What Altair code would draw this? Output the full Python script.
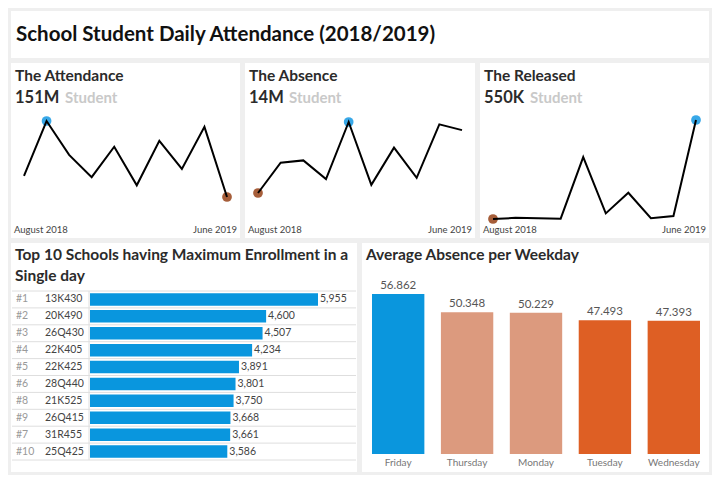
import altair as alt
import pandas as pd

# ---------------- data ----------------
main_title = "School Student Daily Attendance (2018/2019)"

months = ["August 2018", "September 2018", "October 2018", "November 2018", "December 2018",
          "January 2019", "February 2019", "March 2019", "April 2019", "June 2019"]

attendance_m = [13.7, 18.4, 15.5, 13.6, 16.2, 12.9, 16.7, 14.3, 17.9, 11.9]   # millions
absence_m = [1.10, 1.36, 1.38, 1.22, 1.71, 1.17, 1.49, 1.23, 1.69, 1.64]       # millions
released_k = [2, 5, 4, 3, 167, 17, 72, 4, 10, 266]                              # thousands

kpi_titles = ["The Attendance", "The Absence", "The Released"]
kpi_totals = ["151M", "14M", "550K"]
kpi_unit = "Student"

top_title_1 = "Top 10 Schools having Maximum Enrollment in a"
top_title_2 = "Single day"
ranks = ["#1", "#2", "#3", "#4", "#5", "#6", "#8", "#9", "#7", "#10"]
schools = ["13K430", "20K490", "26Q430", "22K405", "22K425", "28Q440", "21K525", "26Q415", "31R455", "25Q425"]
enroll = [5955, 4600, 4507, 4234, 3891, 3801, 3750, 3668, 3661, 3586]

wd_title = "Average Absence per Weekday"
weekdays = ["Friday", "Thursday", "Monday", "Tuesday", "Wednesday"]
avg_absence = [56.862, 50.348, 50.229, 47.493, 47.393]
weekday_colors = ["#0a96dd", "#dc9a7e", "#dc9a7e", "#de5f24", "#de5f24"]

FONT = "Lato"
DARK = "#2b2b2b"

# ---------------- title panel ----------------
title_chart = alt.Chart(pd.DataFrame({"t": [main_title]})).mark_text(
    align="left", baseline="middle", font=FONT, fontSize=20.5, fontWeight="bold", color="#111"
).encode(text="t:N", x=alt.value(5), y=alt.value(24)).properties(width=698, height=47)


# ---------------- spark panels ----------------
def spark(title, total, unit_dx, values, yrange, width):
    n = len(values)
    vmax, vmin = max(values), min(values)
    kind = ["max" if v == vmax else ("min" if v == vmin else "") for v in values]
    df = pd.DataFrame({"i": list(range(n)), "month": months, "v": values, "kind": kind})
    xenc = alt.X("i:Q", axis=None, scale=alt.Scale(domain=[0, n - 1], range=[13, width - 13], nice=False, zero=False))
    yenc = alt.Y("v:Q", axis=None, scale=alt.Scale(domain=[vmin, vmax], range=yrange, nice=False, zero=False))
    base = alt.Chart(df)
    dots = base.transform_filter(alt.datum.kind != "").mark_circle(size=95, opacity=1).encode(
        x=xenc, y=yenc,
        color=alt.Color("kind:N", scale=alt.Scale(domain=["max", "min"], range=["#38a8e8", "#a65e3a"]), legend=None),
    )
    line = base.mark_line(color="black", strokeWidth=2).encode(x=xenc, y=yenc, order="i:Q")
    hdr = pd.DataFrame({"t": [title], "tot": [total], "u": [kpi_unit],
                        "first": [months[0]], "last": [months[-1]]})
    h = alt.Chart(hdr)
    t1 = h.mark_text(align="left", baseline="middle", font=FONT, fontSize=15.5, fontWeight="bold", color=DARK).encode(
        text="t:N", x=alt.value(4), y=alt.value(13))
    t2 = h.mark_text(align="left", baseline="middle", font=FONT, fontSize=16.5, fontWeight="bold", color=DARK).encode(
        text="tot:N", x=alt.value(4), y=alt.value(35))
    t3 = h.mark_text(align="left", baseline="middle", font=FONT, fontSize=15, fontWeight="bold", color="#c9c9c9").encode(
        text="u:N", x=alt.value(unit_dx), y=alt.value(35))
    l1 = h.mark_text(align="left", baseline="middle", font=FONT, fontSize=9.5, color="#444").encode(
        text="first:N", x=alt.value(3), y=alt.value(167))
    l2 = h.mark_text(align="right", baseline="middle", font=FONT, fontSize=9.5, color="#444").encode(
        text="last:N", x=alt.value(width - 3), y=alt.value(167))
    return alt.layer(dots, line, t1, t2, t3, l1, l2).properties(width=width, height=175)


p1 = spark(kpi_titles[0], kpi_totals[0], 54, attendance_m, [134, 58], 229)
p2 = spark(kpi_titles[1], kpi_totals[1], 44, absence_m, [130, 59], 230)
p3 = spark(kpi_titles[2], kpi_totals[2], 50, released_k, [156, 57], 229)
row2 = alt.hconcat(p1, p2, p3, spacing=5)

# ---------------- top 10 panel ----------------
TW, TH = 346, 229
tdf = pd.DataFrame({"i": list(range(len(ranks))), "rank": ranks, "school": schools, "v": enroll})
tdf["y0"] = tdf["i"] + 0.13
tdf["y1"] = tdf["i"] + 0.87
tdf["yc"] = tdf["i"] + 0.5
yscale = alt.Scale(domain=[0, len(ranks)], range=[48, 217], nice=False, zero=False)
xscale = alt.Scale(domain=[0, max(enroll)], range=[79, 307], nice=False, zero=True)
tb = alt.Chart(tdf)
seps = alt.Chart(pd.DataFrame({"b": list(range(len(ranks) + 1))})).mark_rule(color="#dedede", strokeWidth=1).encode(
    y=alt.Y("b:Q", axis=None, scale=yscale), x=alt.value(1), x2=alt.value(TW - 1))
vline = alt.Chart(pd.DataFrame({"a": [0]})).mark_rule(color="#dedede", strokeWidth=1).encode(
    x=alt.value(78), y=alt.value(48), y2=alt.value(217))
bars = tb.transform_calculate(z="0").mark_bar(color="#0996de").encode(
    x=alt.X("v:Q", axis=None, scale=xscale), x2="z:Q",
    y=alt.Y("y0:Q", axis=None, scale=yscale), y2="y1:Q")
rank_t = tb.mark_text(align="left", baseline="middle", font=FONT, fontSize=10.5, color="#999").encode(
    text="rank:N", x=alt.value(5), y=alt.Y("yc:Q", axis=None, scale=yscale))
code_t = tb.mark_text(align="left", baseline="middle", font=FONT, fontSize=10.5, color="#444").encode(
    text="school:N", x=alt.value(34), y=alt.Y("yc:Q", axis=None, scale=yscale))
val_t = tb.mark_text(align="left", baseline="middle", font=FONT, fontSize=10.5, color="#444", dx=2).encode(
    text=alt.Text("v:Q", format=","), x=alt.X("v:Q", axis=None, scale=xscale),
    y=alt.Y("yc:Q", axis=None, scale=yscale))
th = alt.Chart(pd.DataFrame({"a": [top_title_1], "b": [top_title_2]}))
tt1 = th.mark_text(align="left", baseline="middle", font=FONT, fontSize=15.5, fontWeight="bold", color=DARK).encode(
    text="a:N", x=alt.value(4), y=alt.value(12))
tt2 = th.mark_text(align="left", baseline="middle", font=FONT, fontSize=15.5, fontWeight="bold", color=DARK).encode(
    text="b:N", x=alt.value(4), y=alt.value(33))
top10 = alt.layer(seps, vline, bars, rank_t, code_t, val_t, tt1, tt2).properties(width=TW, height=TH)

# ---------------- weekday panel ----------------
WW, WH = 347, 229
wdf = pd.DataFrame({"day": weekdays, "v": avg_absence})
wx = alt.X("day:N", axis=None, sort=weekdays,
           scale=alt.Scale(domain=weekdays, range=[10, 338], paddingInner=0.24, paddingOuter=0))
wy = alt.Y("v:Q", axis=None, scale=alt.Scale(domain=[0, max(avg_absence)], range=[211, 51], nice=False, zero=True))
wb = alt.Chart(wdf)
wbars = wb.mark_bar().encode(
    x=wx, y=wy,
    color=alt.Color("day:N", scale=alt.Scale(domain=weekdays, range=weekday_colors), legend=None))
wvals = wb.mark_text(baseline="bottom", dy=-3, font=FONT, fontSize=11.5, color="#555").encode(
    x=wx, y=wy, text=alt.Text("v:Q", format=".3f"))
wdays = wb.mark_text(baseline="middle", font=FONT, fontSize=10, color="#777").encode(
    x=wx, y=alt.value(220), text="day:N")
wt = alt.Chart(pd.DataFrame({"t": [wd_title]})).mark_text(
    align="left", baseline="middle", font=FONT, fontSize=15.5, fontWeight="bold", color=DARK).encode(
    text="t:N", x=alt.value(4), y=alt.value(12))
weekday = alt.layer(wbars, wvals, wdays, wt).properties(width=WW, height=WH)

row3 = alt.hconcat(top10, weekday, spacing=5).resolve_scale(color="independent")

chart = alt.vconcat(title_chart, row2, row3, spacing=5).properties(
    background="#efefef", padding=3
).configure_view(fill="white", strokeWidth=0).resolve_scale(
    x="independent", y="independent", color="independent")

chart.save("out.html", embed_options={"renderer": "svg", "actions": False})
